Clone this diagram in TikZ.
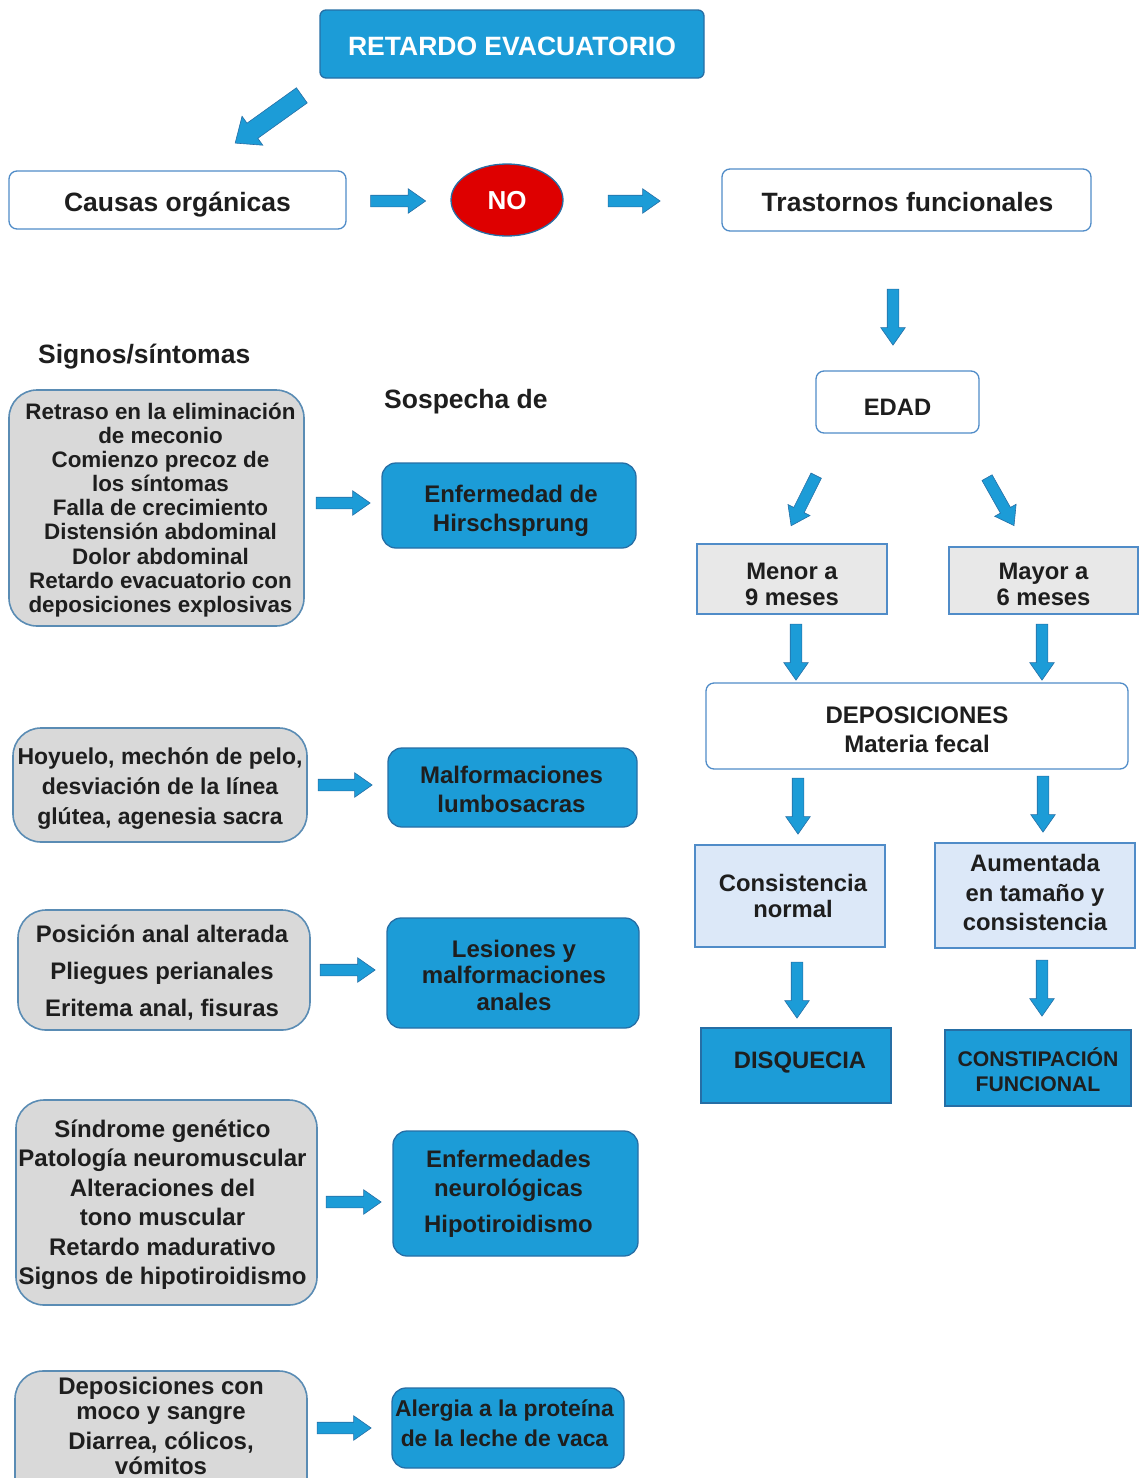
\documentclass[tikz,border=0pt]{standalone}
\usepackage{fontspec}
\setmainfont{Liberation Sans}
\usetikzlibrary{shapes.arrows,shapes.geometric}
\definecolor{blueC}{RGB}{28,156,215}
\definecolor{blueB}{RGB}{38,110,165}
\definecolor{wB}{RGB}{80,140,200}
\definecolor{greyF}{RGB}{217,217,217}
\definecolor{greyB}{RGB}{90,140,180}
\definecolor{lgrey}{RGB}{232,232,232}
\definecolor{lblue}{RGB}{220,232,248}
\definecolor{txt}{RGB}{30,30,30}
\definecolor{noRed}{RGB}{222,0,0}
\newcommand\myfs[2]{\fontsize{#1}{#2}\selectfont\bfseries}
\tikzset{
  base/.style={align=center, text=txt, inner sep=0pt},
  lbl/.style={align=center, text=txt, inner sep=0pt},
  titlebox/.style={base, fill=blueC, draw=blueB, rounded corners=6pt, line width=1.3pt},
  whitebox/.style={base, fill=white, draw=wB, rounded corners=8pt, line width=1.3pt},
  greybox/.style={base, fill=greyF, draw=greyB, rounded corners=28pt, line width=1.6pt},
  bluebox/.style={base, fill=blueC, draw=blueB, rounded corners=14pt, line width=1.3pt},
  sqgrey/.style={base, fill=lgrey, draw=wB, line width=1.3pt},
  sqlblue/.style={base, fill=lblue, draw=wB, line width=1.3pt},
  sqblue/.style={base, fill=blueC, draw=blueB, line width=1.3pt},
  barrow/.style={single arrow, fill=blueC, draw=blueB, line width=0.6pt,
    inner sep=5.5pt, minimum width=0pt, single arrow head extend=6.5pt,
    single arrow tip angle=70, minimum height=#1},
  bigarrow/.style={single arrow, fill=blueC, draw=blueB, line width=0.6pt,
    inner sep=9pt, minimum width=0pt, single arrow head extend=8.5pt,
    single arrow tip angle=80, minimum height=#1},
}
\begin{document}
\begin{tikzpicture}[x=1pt,y=-1pt]
\useasboundingbox (0,0) rectangle (1139,1478);
% top
\node[titlebox, minimum width=384, minimum height=68,
  label={[name=titleT, lbl, text=white, font=\myfs{26.5}{30}, yshift=-2pt]center:RETARDO EVACUATORIO}] (title) at (512,44) {};
\node[bigarrow=82, rotate=215.6] (atop) at (273,116) {};
\node[whitebox, minimum width=337, minimum height=58,
  label={[name=causasT, lbl, font=\myfs{26.5}{30}, yshift=-5pt]center:Causas orgánicas}] (causas) at (177.5,200) {};
\node[barrow=55] (ac1) at (394,201) {};
\node[ellipse, fill=noRed, draw=blueB, line width=1.3pt, minimum width=112, minimum height=72, inner sep=0pt,
  label={[name=noT, lbl, text=white, font=\myfs{26}{30}, yshift=-1pt]center:NO}] (no) at (507,200) {};
\node[barrow=52] (ac2) at (630,201) {};
\node[whitebox, minimum width=369, minimum height=62,
  label={[name=trastT, lbl, font=\myfs{26.5}{30}, yshift=-2pt, xshift=1pt]center:Trastornos funcionales}] (trast) at (906.5,200) {};
\node[barrow=56, rotate=-90] (d1) at (893,313) {};
% headings
\node[base, anchor=west, font=\myfs{26.5}{30}] (signos) at (38,357) {Signos/síntomas};
\node[base, anchor=west, font=\myfs{26.5}{30}] (sospecha) at (384,402) {Sospecha de};
% right column
\node[whitebox, minimum width=163, minimum height=62,
  label={[name=edadT, lbl, font=\myfs{23.8}{28}, yshift=-5pt]center:EDAD}] (edad) at (897.5,402) {};
\node[barrow=56, rotate=243.4] (dl) at (805.5,497) {};
\node[barrow=55, rotate=-60.6] (dr) at (998.5,498) {};
\node[sqgrey, minimum width=190, minimum height=70,
  label={[name=menorT, lbl, font=\myfs{23.8}{26}, yshift=-5pt]center:{Menor a\\9 meses}}] (menor) at (792,579) {};
\node[sqgrey, minimum width=189, minimum height=67,
  label={[name=mayorT, lbl, font=\myfs{23.8}{26}, yshift=-4pt]center:{Mayor a\\6 meses}}] (mayor) at (1043.5,580.5) {};
\node[barrow=56, rotate=-90] (d2) at (796,648) {};
\node[barrow=56, rotate=-90] (d3) at (1042,648) {};
\node[whitebox, minimum width=422, minimum height=86,
  label={[name=deposT, lbl, font=\myfs{24}{29}, yshift=-4pt]center:{DEPOSICIONES\\Materia fecal}}] (depos) at (917,726) {};
\node[barrow=56, rotate=-90] (d4) at (798,802) {};
\node[barrow=56, rotate=-90] (d5) at (1043,800) {};
\node[sqlblue, minimum width=190, minimum height=102,
  label={[name=consisT, lbl, font=\myfs{23.8}{26}, xshift=3pt]center:{Consistencia\\normal}}] (consis) at (790,896) {};
\node[sqlblue, minimum width=200, minimum height=105,
  label={[name=aumentT, lbl, font=\myfs{23.8}{29.5}, yshift=3pt]center:{Aumentada\\en tamaño y\\consistencia}}] (aument) at (1035,895.5) {};
\node[barrow=56, rotate=-90] (d6) at (797,986) {};
\node[barrow=56, rotate=-90] (d7) at (1042,984) {};
\node[sqblue, minimum width=190, minimum height=75,
  label={[name=disqT, lbl, font=\myfs{23.8}{28}, yshift=3pt, xshift=4pt]center:DISQUECIA}] (disq) at (796,1065.5) {};
\node[sqblue, minimum width=186, minimum height=76,
  label={[name=constT, lbl, font=\myfs{21.2}{25}, yshift=-2pt]center:{CONSTIPACIÓN\\FUNCIONAL}}] (const) at (1038,1068) {};
% left column
\node[greybox, minimum width=295, minimum height=236,
  label={[name=b1T, lbl, font=\myfs{22.4}{24.1}, yshift=-2pt, xshift=4pt]center:{Retraso en la eliminación\\de meconio\\Comienzo precoz de\\los síntomas\\Falla de crecimiento\\Distensión abdominal\\Dolor abdominal\\Retardo evacuatorio con\\deposiciones explosivas}}] (b1) at (156.5,508) {};
\node[barrow=54] (l1) at (339,503) {};
\node[bluebox, minimum width=254, minimum height=85,
  label={[name=h1T, lbl, font=\myfs{24}{29}, yshift=-5pt, xshift=2pt]center:{Enfermedad de\\Hirschsprung}}] (h1) at (509,505.5) {};
\node[greybox, minimum width=294, minimum height=114,
  label={[name=b2T, lbl, font=\myfs{23}{30}, yshift=-3.5pt]center:{Hoyuelo, mechón de pelo,\\desviación de la línea\\glútea, agenesia sacra}}] (b2) at (160,785) {};
\node[barrow=54] (l2) at (341,785) {};
\node[bluebox, minimum width=249, minimum height=79,
  label={[name=h2T, lbl, font=\myfs{24}{29}, yshift=-2pt, xshift=-1pt]center:{Malformaciones\\lumbosacras}}] (h2) at (512.5,787.5) {};
\node[greybox, minimum width=292, minimum height=120,
  label={[name=b3T, lbl, font=\myfs{23.9}{37}, yshift=-2.5pt, xshift=-2pt]center:{Posición anal alterada\\Pliegues perianales\\Eritema anal, fisuras}}] (b3) at (164,970) {};
\node[barrow=55] (l3) at (343.5,970) {};
\node[bluebox, minimum width=252, minimum height=110,
  label={[name=h3T, lbl, font=\myfs{24}{26.5}, yshift=-2pt, xshift=1pt]center:{Lesiones y\\malformaciones\\anales}}] (h3) at (513,973) {};
\node[greybox, minimum width=301, minimum height=205,
  label={[name=b4T, lbl, font=\myfs{24}{29.5}, yshift=-2pt, xshift=-4pt]center:{Síndrome genético\\Patología neuromuscular\\Alteraciones del\\tono muscular\\Retardo madurativo\\Signos de hipotiroidismo}}] (b4) at (166.5,1202.5) {};
\node[barrow=55] (l4) at (349.5,1202) {};
\node[bluebox, minimum width=245, minimum height=125,
  label={[name=h4T, lbl, font=\myfs{23.9}{29}, xshift=-7pt]center:{Enfermedades\\neurológicas\\[7pt]Hipotiroidismo}}] (h4) at (515.5,1193.5) {};
\node[greybox, minimum width=292, minimum height=139] (b5) at (161,1440.5) {};
\node[base, font=\myfs{24}{25}] (b5t) at (161,1426) {Deposiciones con\\moco y sangre\\[5pt]Diarrea, cólicos,\\vómitos};
\node[barrow=54] (l5) at (340,1428) {};
\node[bluebox, minimum width=232, minimum height=80,
  label={[name=h5T, lbl, font=\myfs{22.9}{30}, yshift=5pt, xshift=-3.5pt]center:{Alergia a la proteína\\de la leche de vaca}}] (h5) at (508,1428) {};
\end{tikzpicture}
\end{document}
